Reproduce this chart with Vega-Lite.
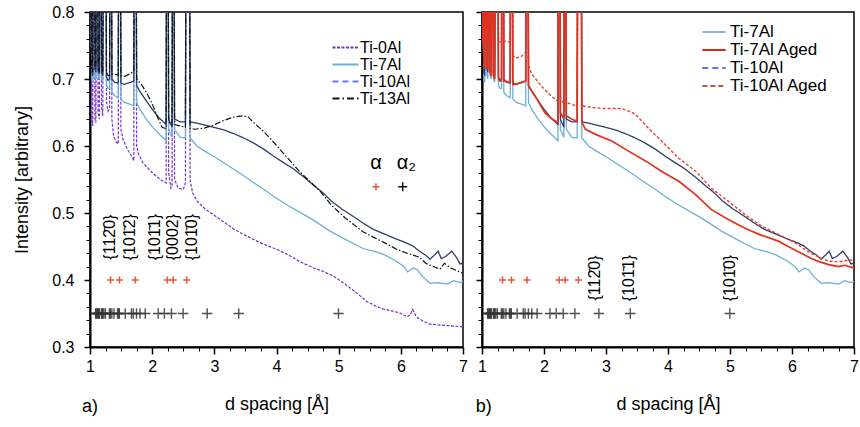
{
"$schema": "https://vega.github.io/schema/vega-lite/v6.json",
"background": "white",
"padding": {"left": 13, "top": 3, "right": 0, "bottom": 0},
"config": {
  "font": "Liberation Sans",
  "view": {"stroke": "black", "strokeWidth": 1.5},
  "axis": {"domainColor": "black", "domainWidth": 2, "tickColor": "black", "labelColor": "black", "titleColor": "black", "labelFontSize": 16, "titleFontSize": 18, "titleFontWeight": "normal", "grid": false, "labelFlush": false, "labelOverlap": false},
  "legend": {"labelFontSize": 17, "symbolStrokeWidth": 2, "labelOffset": 6, "rowPadding": 0, "labelColor": "black"}
},
"datasets": {
"P": [{"x":1.0,"y":0.75},{"x":1.008,"y":1},{"x":1.02,"y":1},{"x":1.03,"y":0.64},{"x":1.045,"y":0.63},{"x":1.055,"y":1},{"x":1.07,"y":1},{"x":1.08,"y":0.64},{"x":1.095,"y":0.635},{"x":1.105,"y":1},{"x":1.12,"y":1},{"x":1.13,"y":0.65},{"x":1.15,"y":0.64},{"x":1.16,"y":1},{"x":1.175,"y":1},{"x":1.185,"y":0.66},{"x":1.205,"y":0.645},{"x":1.22,"y":1},{"x":1.255,"y":1},{"x":1.265,"y":0.665},{"x":1.29,"y":0.652},{"x":1.315,"y":0.656},{"x":1.322,"y":1},{"x":1.342,"y":1},{"x":1.352,"y":0.64},{"x":1.38,"y":0.615},{"x":1.42,"y":0.606},{"x":1.455,"y":0.603},{"x":1.463,"y":1},{"x":1.487,"y":1},{"x":1.497,"y":0.625},{"x":1.53,"y":0.61},{"x":1.6,"y":0.595},{"x":1.67,"y":0.585},{"x":1.705,"y":0.578},{"x":1.712,"y":1},{"x":1.74,"y":1},{"x":1.75,"y":0.6},{"x":1.78,"y":0.588},{"x":1.85,"y":0.575},{"x":1.95,"y":0.565},{"x":2.05,"y":0.556},{"x":2.15,"y":0.549},{"x":2.225,"y":0.545},{"x":2.233,"y":1},{"x":2.255,"y":1},{"x":2.265,"y":0.56},{"x":2.3,"y":0.537},{"x":2.32,"y":0.54},{"x":2.33,"y":1},{"x":2.35,"y":1},{"x":2.36,"y":0.55},{"x":2.42,"y":0.537},{"x":2.5,"y":0.535},{"x":2.535,"y":0.545},{"x":2.545,"y":1},{"x":2.6,"y":1},{"x":2.61,"y":0.55},{"x":2.65,"y":0.53},{"x":2.72,"y":0.518},{"x":2.85,"y":0.506},{"x":2.98,"y":0.498},{"x":3.1,"y":0.49},{"x":3.3,"y":0.477},{"x":3.45,"y":0.469},{"x":3.62,"y":0.461},{"x":3.8,"y":0.453},{"x":4.0,"y":0.446},{"x":4.2,"y":0.437},{"x":4.38,"y":0.427},{"x":4.6,"y":0.418},{"x":4.75,"y":0.413},{"x":4.91,"y":0.406},{"x":5.1,"y":0.394},{"x":5.3,"y":0.38},{"x":5.45,"y":0.368},{"x":5.6,"y":0.361},{"x":5.71,"y":0.357},{"x":5.85,"y":0.354},{"x":5.98,"y":0.351},{"x":6.1,"y":0.345},{"x":6.15,"y":0.348},{"x":6.19,"y":0.356},{"x":6.25,"y":0.345},{"x":6.35,"y":0.339},{"x":6.47,"y":0.334},{"x":6.6,"y":0.333},{"x":6.75,"y":0.332},{"x":6.9,"y":0.331},{"x":7.0,"y":0.33}],
"B": [{"x":1.0,"y":0.745},{"x":1.008,"y":1},{"x":1.02,"y":1},{"x":1.03,"y":0.7},{"x":1.045,"y":0.695},{"x":1.055,"y":1},{"x":1.07,"y":1},{"x":1.08,"y":0.705},{"x":1.095,"y":0.7},{"x":1.105,"y":1},{"x":1.12,"y":1},{"x":1.13,"y":0.705},{"x":1.15,"y":0.7},{"x":1.16,"y":1},{"x":1.175,"y":1},{"x":1.185,"y":0.7},{"x":1.205,"y":0.695},{"x":1.22,"y":1},{"x":1.255,"y":1},{"x":1.265,"y":0.69},{"x":1.29,"y":0.686},{"x":1.315,"y":0.686},{"x":1.322,"y":1},{"x":1.342,"y":1},{"x":1.352,"y":0.68},{"x":1.4,"y":0.675},{"x":1.455,"y":0.672},{"x":1.463,"y":1},{"x":1.487,"y":1},{"x":1.497,"y":0.67},{"x":1.55,"y":0.665},{"x":1.65,"y":0.662},{"x":1.705,"y":0.66},{"x":1.712,"y":1},{"x":1.74,"y":1},{"x":1.75,"y":0.665},{"x":1.8,"y":0.655},{"x":1.9,"y":0.641},{"x":2.0,"y":0.629},{"x":2.1,"y":0.619},{"x":2.225,"y":0.608},{"x":2.233,"y":1},{"x":2.255,"y":1},{"x":2.265,"y":0.625},{"x":2.32,"y":0.613},{"x":2.33,"y":1},{"x":2.35,"y":1},{"x":2.36,"y":0.625},{"x":2.45,"y":0.613},{"x":2.535,"y":0.612},{"x":2.545,"y":1},{"x":2.6,"y":1},{"x":2.61,"y":0.612},{"x":2.72,"y":0.6},{"x":2.85,"y":0.592},{"x":2.98,"y":0.585},{"x":3.15,"y":0.575},{"x":3.3,"y":0.566},{"x":3.45,"y":0.557},{"x":3.62,"y":0.546},{"x":3.8,"y":0.535},{"x":3.95,"y":0.525},{"x":4.15,"y":0.513},{"x":4.38,"y":0.501},{"x":4.6,"y":0.489},{"x":4.86,"y":0.473},{"x":5.1,"y":0.461},{"x":5.39,"y":0.447},{"x":5.6,"y":0.442},{"x":5.75,"y":0.437},{"x":5.93,"y":0.428},{"x":6.05,"y":0.42},{"x":6.11,"y":0.412},{"x":6.2,"y":0.418},{"x":6.27,"y":0.415},{"x":6.35,"y":0.405},{"x":6.47,"y":0.395},{"x":6.6,"y":0.396},{"x":6.75,"y":0.394},{"x":6.85,"y":0.399},{"x":6.95,"y":0.396},{"x":7.0,"y":0.398}],
"N": [{"x":1.0,"y":0.74},{"x":1.008,"y":1},{"x":1.02,"y":1},{"x":1.03,"y":0.71},{"x":1.045,"y":0.705},{"x":1.055,"y":1},{"x":1.07,"y":1},{"x":1.08,"y":0.715},{"x":1.095,"y":0.71},{"x":1.105,"y":1},{"x":1.12,"y":1},{"x":1.13,"y":0.712},{"x":1.15,"y":0.708},{"x":1.16,"y":1},{"x":1.175,"y":1},{"x":1.185,"y":0.71},{"x":1.205,"y":0.705},{"x":1.22,"y":1},{"x":1.255,"y":1},{"x":1.265,"y":0.703},{"x":1.29,"y":0.698},{"x":1.315,"y":0.7},{"x":1.322,"y":1},{"x":1.342,"y":1},{"x":1.352,"y":0.7},{"x":1.4,"y":0.695},{"x":1.455,"y":0.694},{"x":1.463,"y":1},{"x":1.487,"y":1},{"x":1.497,"y":0.694},{"x":1.55,"y":0.692},{"x":1.65,"y":0.695},{"x":1.705,"y":0.697},{"x":1.712,"y":1},{"x":1.74,"y":1},{"x":1.75,"y":0.69},{"x":1.8,"y":0.682},{"x":1.9,"y":0.668},{"x":2.0,"y":0.655},{"x":2.1,"y":0.643},{"x":2.225,"y":0.632},{"x":2.233,"y":1},{"x":2.255,"y":1},{"x":2.265,"y":0.64},{"x":2.32,"y":0.628},{"x":2.33,"y":1},{"x":2.35,"y":1},{"x":2.36,"y":0.64},{"x":2.45,"y":0.636},{"x":2.535,"y":0.636},{"x":2.545,"y":1},{"x":2.6,"y":1},{"x":2.61,"y":0.636},{"x":2.72,"y":0.634},{"x":2.85,"y":0.631},{"x":2.98,"y":0.628},{"x":3.15,"y":0.624},{"x":3.3,"y":0.619},{"x":3.45,"y":0.613},{"x":3.62,"y":0.605},{"x":3.8,"y":0.595},{"x":3.95,"y":0.585},{"x":4.1,"y":0.576},{"x":4.27,"y":0.566},{"x":4.45,"y":0.553},{"x":4.6,"y":0.541},{"x":4.75,"y":0.53},{"x":4.88,"y":0.518},{"x":5.05,"y":0.506},{"x":5.2,"y":0.497},{"x":5.39,"y":0.485},{"x":5.55,"y":0.476},{"x":5.75,"y":0.468},{"x":5.93,"y":0.461},{"x":6.05,"y":0.457},{"x":6.19,"y":0.451},{"x":6.3,"y":0.443},{"x":6.4,"y":0.437},{"x":6.47,"y":0.431},{"x":6.55,"y":0.438},{"x":6.6,"y":0.443},{"x":6.65,"y":0.432},{"x":6.72,"y":0.435},{"x":6.82,"y":0.443},{"x":6.9,"y":0.433},{"x":6.95,"y":0.424},{"x":7.0,"y":0.425}],
"D": [{"x":1.0,"y":0.74},{"x":1.008,"y":1},{"x":1.02,"y":1},{"x":1.03,"y":0.715},{"x":1.045,"y":0.71},{"x":1.055,"y":1},{"x":1.07,"y":1},{"x":1.08,"y":0.72},{"x":1.095,"y":0.715},{"x":1.105,"y":1},{"x":1.12,"y":1},{"x":1.13,"y":0.715},{"x":1.15,"y":0.712},{"x":1.16,"y":1},{"x":1.175,"y":1},{"x":1.185,"y":0.715},{"x":1.205,"y":0.71},{"x":1.22,"y":1},{"x":1.255,"y":1},{"x":1.265,"y":0.71},{"x":1.29,"y":0.705},{"x":1.315,"y":0.705},{"x":1.322,"y":1},{"x":1.342,"y":1},{"x":1.352,"y":0.708},{"x":1.4,"y":0.707},{"x":1.455,"y":0.706},{"x":1.463,"y":1},{"x":1.487,"y":1},{"x":1.497,"y":0.705},{"x":1.56,"y":0.704},{"x":1.65,"y":0.708},{"x":1.705,"y":0.712},{"x":1.712,"y":1},{"x":1.74,"y":1},{"x":1.75,"y":0.7},{"x":1.84,"y":0.69},{"x":1.92,"y":0.678},{"x":2.0,"y":0.663},{"x":2.1,"y":0.64},{"x":2.16,"y":0.628},{"x":2.225,"y":0.626},{"x":2.233,"y":1},{"x":2.255,"y":1},{"x":2.265,"y":0.636},{"x":2.32,"y":0.632},{"x":2.33,"y":1},{"x":2.35,"y":1},{"x":2.36,"y":0.632},{"x":2.45,"y":0.63},{"x":2.535,"y":0.628},{"x":2.545,"y":1},{"x":2.6,"y":1},{"x":2.61,"y":0.626},{"x":2.69,"y":0.625},{"x":2.85,"y":0.627},{"x":2.98,"y":0.631},{"x":3.15,"y":0.638},{"x":3.3,"y":0.643},{"x":3.46,"y":0.645},{"x":3.55,"y":0.643},{"x":3.62,"y":0.636},{"x":3.8,"y":0.621},{"x":3.95,"y":0.606},{"x":4.15,"y":0.585},{"x":4.38,"y":0.561},{"x":4.55,"y":0.546},{"x":4.7,"y":0.533},{"x":4.88,"y":0.512},{"x":5.1,"y":0.493},{"x":5.39,"y":0.472},{"x":5.6,"y":0.462},{"x":5.75,"y":0.455},{"x":5.93,"y":0.446},{"x":6.1,"y":0.44},{"x":6.3,"y":0.434},{"x":6.4,"y":0.425},{"x":6.5,"y":0.421},{"x":6.63,"y":0.416},{"x":6.7,"y":0.425},{"x":6.8,"y":0.418},{"x":6.95,"y":0.412},{"x":7.0,"y":0.41}],
"R": [{"x":1.0,"y":0.75},{"x":1.008,"y":1},{"x":1.02,"y":1},{"x":1.03,"y":0.72},{"x":1.045,"y":0.715},{"x":1.055,"y":1},{"x":1.07,"y":1},{"x":1.08,"y":0.72},{"x":1.095,"y":0.715},{"x":1.105,"y":1},{"x":1.12,"y":1},{"x":1.13,"y":0.71},{"x":1.15,"y":0.705},{"x":1.16,"y":1},{"x":1.175,"y":1},{"x":1.185,"y":0.705},{"x":1.205,"y":0.7},{"x":1.22,"y":1},{"x":1.255,"y":1},{"x":1.265,"y":0.7},{"x":1.29,"y":0.697},{"x":1.315,"y":0.697},{"x":1.322,"y":1},{"x":1.342,"y":1},{"x":1.352,"y":0.697},{"x":1.4,"y":0.696},{"x":1.455,"y":0.695},{"x":1.463,"y":1},{"x":1.487,"y":1},{"x":1.497,"y":0.692},{"x":1.54,"y":0.692},{"x":1.67,"y":0.696},{"x":1.705,"y":0.697},{"x":1.712,"y":1},{"x":1.74,"y":1},{"x":1.75,"y":0.69},{"x":1.86,"y":0.674},{"x":1.95,"y":0.66},{"x":2.02,"y":0.649},{"x":2.12,"y":0.641},{"x":2.19,"y":0.637},{"x":2.225,"y":0.635},{"x":2.233,"y":1},{"x":2.255,"y":1},{"x":2.265,"y":0.65},{"x":2.32,"y":0.64},{"x":2.33,"y":1},{"x":2.35,"y":1},{"x":2.36,"y":0.645},{"x":2.45,"y":0.64},{"x":2.535,"y":0.637},{"x":2.545,"y":1},{"x":2.6,"y":1},{"x":2.61,"y":0.635},{"x":2.67,"y":0.625},{"x":2.84,"y":0.617},{"x":3.1,"y":0.607},{"x":3.37,"y":0.592},{"x":3.65,"y":0.577},{"x":3.9,"y":0.562},{"x":4.18,"y":0.547},{"x":4.45,"y":0.527},{"x":4.7,"y":0.505},{"x":4.98,"y":0.49},{"x":5.25,"y":0.477},{"x":5.5,"y":0.467},{"x":5.78,"y":0.458},{"x":5.9,"y":0.452},{"x":6.0,"y":0.447},{"x":6.15,"y":0.44},{"x":6.31,"y":0.432},{"x":6.45,"y":0.427},{"x":6.59,"y":0.423},{"x":6.75,"y":0.42},{"x":6.85,"y":0.422},{"x":7.0,"y":0.418}],
"Q": [{"x":1.0,"y":0.77},{"x":1.008,"y":1},{"x":1.02,"y":1},{"x":1.03,"y":0.76},{"x":1.045,"y":0.755},{"x":1.055,"y":1},{"x":1.07,"y":1},{"x":1.08,"y":0.76},{"x":1.095,"y":0.757},{"x":1.105,"y":1},{"x":1.12,"y":1},{"x":1.13,"y":0.76},{"x":1.15,"y":0.755},{"x":1.16,"y":1},{"x":1.175,"y":1},{"x":1.185,"y":0.758},{"x":1.205,"y":0.755},{"x":1.22,"y":1},{"x":1.255,"y":1},{"x":1.265,"y":0.757},{"x":1.29,"y":0.755},{"x":1.315,"y":0.755},{"x":1.322,"y":1},{"x":1.342,"y":1},{"x":1.352,"y":0.757},{"x":1.4,"y":0.756},{"x":1.455,"y":0.755},{"x":1.463,"y":1},{"x":1.487,"y":1},{"x":1.497,"y":0.735},{"x":1.54,"y":0.731},{"x":1.64,"y":0.734},{"x":1.705,"y":0.74},{"x":1.712,"y":1},{"x":1.74,"y":1},{"x":1.75,"y":0.72},{"x":1.8,"y":0.708},{"x":1.96,"y":0.689},{"x":2.1,"y":0.676},{"x":2.19,"y":0.669},{"x":2.225,"y":0.667},{"x":2.233,"y":1},{"x":2.255,"y":1},{"x":2.265,"y":0.67},{"x":2.32,"y":0.664},{"x":2.33,"y":1},{"x":2.35,"y":1},{"x":2.36,"y":0.665},{"x":2.45,"y":0.662},{"x":2.535,"y":0.66},{"x":2.545,"y":1},{"x":2.6,"y":1},{"x":2.61,"y":0.66},{"x":2.67,"y":0.659},{"x":2.93,"y":0.656},{"x":3.25,"y":0.656},{"x":3.4,"y":0.651},{"x":3.48,"y":0.647},{"x":3.69,"y":0.626},{"x":3.9,"y":0.607},{"x":4.17,"y":0.582},{"x":4.45,"y":0.562},{"x":4.7,"y":0.537},{"x":4.98,"y":0.517},{"x":5.25,"y":0.497},{"x":5.5,"y":0.481},{"x":5.78,"y":0.468},{"x":6.06,"y":0.455},{"x":6.3,"y":0.44},{"x":6.59,"y":0.428},{"x":6.75,"y":0.427},{"x":6.96,"y":0.43},{"x":7.0,"y":0.428}],
"alpha": [{"x":1.332,"y":0.4},{"x":1.475,"y":0.4},{"x":1.726,"y":0.4},{"x":2.244,"y":0.4},{"x":2.34,"y":0.4},{"x":2.555,"y":0.4}],
"alpha2": [{"x":4.997,"y":0.35},{"x":3.392,"y":0.35},{"x":2.885,"y":0.35},{"x":2.498,"y":0.35},{"x":2.31,"y":0.35},{"x":2.197,"y":0.35},{"x":2.097,"y":0.35},{"x":1.889,"y":0.35},{"x":1.803,"y":0.35},{"x":1.748,"y":0.35},{"x":1.696,"y":0.35},{"x":1.666,"y":0.35},{"x":1.567,"y":0.35},{"x":1.472,"y":0.35},{"x":1.462,"y":0.35},{"x":1.442,"y":0.35},{"x":1.386,"y":0.35},{"x":1.351,"y":0.35},{"x":1.327,"y":0.35},{"x":1.311,"y":0.35},{"x":1.249,"y":0.35},{"x":1.2235,"y":0.35},{"x":1.206,"y":0.35},{"x":1.193,"y":0.35},{"x":1.188,"y":0.35},{"x":1.155,"y":0.35},{"x":1.146,"y":0.35},{"x":1.131,"y":0.35},{"x":1.125,"y":0.35},{"x":1.113,"y":0.35},{"x":1.099,"y":0.35},{"x":1.09,"y":0.35}],
"hklL": [{"t":"{112\u03040}","x":1.32,"y":0.464},{"t":"{101\u03042}","x":1.64,"y":0.464},{"t":"{101\u03041}","x":2.045,"y":0.464},{"t":"{0002}","x":2.34,"y":0.464},{"t":"{101\u03040}","x":2.635,"y":0.464}],
"hklR": [{"t":"{112\u03040}","x":2.83,"y":0.403},{"t":"{101\u03041}","x":3.37,"y":0.403},{"t":"{101\u03040}","x":5.0,"y":0.403}]
},
"spacing": 5,
"resolve": {"scale": {"x": "independent", "y": "independent", "color": "independent", "strokeDash": "independent"}, "legend": {"color": "independent", "strokeDash": "independent"}},
"hconcat": [
{
  "width": 373, "height": 335,
  "resolve": {"axis": {"x": "independent", "y": "independent"}},
  "layer": [
      {"data": {"name": "P"}, "mark": {"type": "line", "clip": true, "stroke": "#7433cf", "strokeWidth": 1.2, "strokeDash": [3, 1.5]},
       "encoding": {
         "x": {"field": "x", "type": "quantitative", "scale": {"domain": [1, 7], "nice": false, "zero": false},
               "axis": {"values": [1, 2, 3, 4, 5, 6, 7], "format": "d", "title": "d spacing [Å]", "tickSize": 7, "tickWidth": 1.5, "labelPadding": 4, "titlePadding": 21, "orient": "bottom"}},
         "y": {"field": "y", "type": "quantitative", "scale": {"domain": [0.3, 0.8], "nice": false, "zero": false},
               "axis": {"values": [0.3, 0.4, 0.5, 0.6, 0.7, 0.8], "format": ".1f", "title": "Intensity [arbitrary]", "tickSize": 6, "tickWidth": 1.5, "labelPadding": 10, "titlePadding": 20, "orient": "left"}}}},
      {"data": {"name": "B"}, "mark": {"type": "line", "clip": true, "stroke": "#6cb0d6", "strokeWidth": 1.3},
       "encoding": {"x": {"field": "x", "type": "quantitative", "axis": null}, "y": {"field": "y", "type": "quantitative", "axis": null}}},
      {"data": {"name": "N"}, "mark": {"type": "line", "clip": true, "stroke": "#2f3f68", "strokeWidth": 1.3},
       "encoding": {"x": {"field": "x", "type": "quantitative", "axis": null}, "y": {"field": "y", "type": "quantitative", "axis": null}}},
      {"data": {"name": "D"}, "mark": {"type": "line", "clip": true, "stroke": "#111111", "strokeWidth": 1.2, "strokeDash": [6, 2, 1.5, 2]},
       "encoding": {"x": {"field": "x", "type": "quantitative", "axis": null}, "y": {"field": "y", "type": "quantitative", "axis": null}}},
      {"data": {"name": "alpha"}, "mark": {"type": "point", "shape": "M-1,0L1,0M0,-1L0,1", "filled": false, "color": "#e8553a", "strokeWidth": 1.5, "size": 49, "opacity": 1},
       "encoding": {"x": {"field": "x", "type": "quantitative", "axis": null}, "y": {"field": "y", "type": "quantitative", "axis": null}}},
      {"data": {"name": "alpha2"}, "mark": {"type": "point", "shape": "M-1,0L1,0M0,-1L0,1", "filled": false, "color": "#333333", "strokeWidth": 1.4, "size": 110, "opacity": 0.85},
       "encoding": {"x": {"field": "x", "type": "quantitative", "axis": null}, "y": {"field": "y", "type": "quantitative", "axis": null}}},
      {"data": {"values": [{"x": 5.6, "y": 0.539}]}, "mark": {"type": "point", "shape": "M-1,0L1,0M0,-1L0,1", "filled": false, "color": "#e8553a", "strokeWidth": 1.5, "size": 49, "opacity": 1},
       "encoding": {"x": {"field": "x", "type": "quantitative", "axis": null}, "y": {"field": "y", "type": "quantitative", "axis": null}}},
      {"data": {"values": [{"x": 6.03, "y": 0.539}]}, "mark": {"type": "point", "shape": "M-1,0L1,0M0,-1L0,1", "filled": false, "color": "#111111", "strokeWidth": 1.5, "size": 81, "opacity": 1},
       "encoding": {"x": {"field": "x", "type": "quantitative", "axis": null}, "y": {"field": "y", "type": "quantitative", "axis": null}}},
      {"data": {"values": [{"t": "α", "x": 5.6, "y": 0.575}, {"t": "α₂", "x": 6.09, "y": 0.575}]}, "mark": {"type": "text", "fontSize": 20, "align": "center", "baseline": "middle", "color": "black"},
       "encoding": {"text": {"field": "t"}, "x": {"field": "x", "type": "quantitative", "axis": null}, "y": {"field": "y", "type": "quantitative", "axis": null}}},
      {"data": {"name": "hklL"}, "mark": {"type": "text", "fontSize": 16, "angle": 270, "align": "center", "baseline": "middle", "color": "black"},
       "encoding": {"text": {"field": "t"}, "x": {"field": "x", "type": "quantitative", "axis": null}, "y": {"field": "y", "type": "quantitative", "axis": null}}},
      {"data": {"values": [{"t": "a)", "x": 1.0, "y": 0.21}]}, "mark": {"type": "text", "fontSize": 18, "align": "center", "baseline": "middle", "color": "black"},
       "encoding": {"text": {"field": "t"}, "x": {"field": "x", "type": "quantitative", "axis": null}, "y": {"field": "y", "type": "quantitative", "axis": null}}},
    {"data": {"values": []}, "mark": {"type": "line"},
     "encoding": {
       "x": {"field": "x", "type": "quantitative", "axis": {"values": [1.25, 1.5, 1.75, 2.25, 2.5, 2.75, 3.25, 3.5, 3.75, 4.25, 4.5, 4.75, 5.25, 5.5, 5.75, 6.25, 6.5, 6.75], "labels": false, "domain": false, "title": null, "tickSize": 4, "tickWidth": 1, "orient": "bottom"}},
       "y": {"field": "y", "type": "quantitative", "axis": {"values": [0.32, 0.34, 0.36, 0.38, 0.42, 0.44, 0.46, 0.48, 0.52, 0.54, 0.56, 0.58, 0.62, 0.64, 0.66, 0.68, 0.72, 0.74, 0.76, 0.78], "labels": false, "domain": false, "title": null, "tickSize": 4, "tickWidth": 1, "orient": "left"}},
       "color": {"field": "s", "type": "nominal", "scale": {"domain": ["Ti-0Al", "Ti-7Al", "Ti-10Al", "Ti-13Al"], "range": ["#7433cf", "#6cb0d6", "#6a7cf0", "#111111"]},
                 "legend": {"title": null, "orient": "none", "legendX": 247, "legendY": 27, "labelFontSize": 16, "symbolType": "M-1.8,0L1.8,0", "symbolSize": 210}},
       "strokeDash": {"field": "s", "type": "nominal", "scale": {"domain": ["Ti-0Al", "Ti-7Al", "Ti-10Al", "Ti-13Al"], "range": [[3, 1.5], [1, 0], [6, 4], [7, 3, 1.5, 3]]},
                 "legend": {"title": null, "orient": "none", "legendX": 247, "legendY": 27, "labelFontSize": 16, "symbolType": "M-1.8,0L1.8,0", "symbolSize": 210}}}}
  ]
},
{
  "width": 372, "height": 335,
  "resolve": {"axis": {"x": "independent", "y": "independent"}},
  "layer": [
      {"data": {"name": "B"}, "mark": {"type": "line", "clip": true, "stroke": "#6cb0d6", "strokeWidth": 1.3},
       "encoding": {
         "x": {"field": "x", "type": "quantitative", "scale": {"domain": [1, 7], "nice": false, "zero": false},
               "axis": {"values": [1, 2, 3, 4, 5, 6, 7], "format": "d", "title": "d spacing [Å]", "tickSize": 7, "tickWidth": 1.5, "labelPadding": 4, "titlePadding": 21, "orient": "bottom"}},
         "y": {"field": "y", "type": "quantitative", "scale": {"domain": [0.3, 0.8], "nice": false, "zero": false},
               "axis": {"values": [0.3, 0.4, 0.5, 0.6, 0.7, 0.8], "labels": false, "title": null, "tickSize": 6, "tickWidth": 1.5, "orient": "left"}}}},
      {"data": {"name": "N"}, "mark": {"type": "line", "clip": true, "stroke": "#2f3f68", "strokeWidth": 1.3},
       "encoding": {"x": {"field": "x", "type": "quantitative", "axis": null}, "y": {"field": "y", "type": "quantitative", "axis": null}}},
      {"data": {"name": "Q"}, "mark": {"type": "line", "clip": true, "stroke": "#e8412e", "strokeWidth": 1.4, "strokeDash": [3, 2]},
       "encoding": {"x": {"field": "x", "type": "quantitative", "axis": null}, "y": {"field": "y", "type": "quantitative", "axis": null}}},
      {"data": {"name": "R"}, "mark": {"type": "line", "clip": true, "stroke": "#e2321f", "strokeWidth": 1.7},
       "encoding": {"x": {"field": "x", "type": "quantitative", "axis": null}, "y": {"field": "y", "type": "quantitative", "axis": null}}},
      {"data": {"name": "alpha"}, "mark": {"type": "point", "shape": "M-1,0L1,0M0,-1L0,1", "filled": false, "color": "#e8553a", "strokeWidth": 1.5, "size": 49, "opacity": 1},
       "encoding": {"x": {"field": "x", "type": "quantitative", "axis": null}, "y": {"field": "y", "type": "quantitative", "axis": null}}},
      {"data": {"name": "alpha2"}, "mark": {"type": "point", "shape": "M-1,0L1,0M0,-1L0,1", "filled": false, "color": "#333333", "strokeWidth": 1.4, "size": 110, "opacity": 0.85},
       "encoding": {"x": {"field": "x", "type": "quantitative", "axis": null}, "y": {"field": "y", "type": "quantitative", "axis": null}}},
      {"data": {"name": "hklR"}, "mark": {"type": "text", "fontSize": 16, "angle": 270, "align": "center", "baseline": "middle", "color": "black"},
       "encoding": {"text": {"field": "t"}, "x": {"field": "x", "type": "quantitative", "axis": null}, "y": {"field": "y", "type": "quantitative", "axis": null}}},
      {"data": {"values": [{"t": "b)", "x": 1.03, "y": 0.21}]}, "mark": {"type": "text", "fontSize": 18, "align": "center", "baseline": "middle", "color": "black"},
       "encoding": {"text": {"field": "t"}, "x": {"field": "x", "type": "quantitative", "axis": null}, "y": {"field": "y", "type": "quantitative", "axis": null}}},
    {"data": {"values": []}, "mark": {"type": "line"},
     "encoding": {
       "x": {"field": "x", "type": "quantitative", "axis": {"values": [1.25, 1.5, 1.75, 2.25, 2.5, 2.75, 3.25, 3.5, 3.75, 4.25, 4.5, 4.75, 5.25, 5.5, 5.75, 6.25, 6.5, 6.75], "labels": false, "domain": false, "title": null, "tickSize": 4, "tickWidth": 1, "orient": "bottom"}},
       "y": {"field": "y", "type": "quantitative", "axis": {"values": [0.32, 0.34, 0.36, 0.38, 0.42, 0.44, 0.46, 0.48, 0.52, 0.54, 0.56, 0.58, 0.62, 0.64, 0.66, 0.68, 0.72, 0.74, 0.76, 0.78], "labels": false, "domain": false, "title": null, "tickSize": 4, "tickWidth": 1, "orient": "left"}},
       "color": {"field": "s", "type": "nominal", "scale": {"domain": ["Ti-7Al", "Ti-7Al Aged", "Ti-10Al", "Ti-10Al Aged"], "range": ["#8ab8e0", "#d42a1e", "#6a6cf0", "#c0504d"]},
                 "legend": {"title": null, "orient": "none", "legendX": 222, "legendY": 10, "labelFontSize": 17, "symbolType": "M-1.35,0L1.35,0", "symbolSize": 300}},
       "strokeDash": {"field": "s", "type": "nominal", "scale": {"domain": ["Ti-7Al", "Ti-7Al Aged", "Ti-10Al", "Ti-10Al Aged"], "range": [[1, 0], [1, 0], [6, 4], [5, 3]]},
                 "legend": {"title": null, "orient": "none", "legendX": 222, "legendY": 10, "labelFontSize": 17, "symbolType": "M-1.35,0L1.35,0", "symbolSize": 300}}}}
  ]
}
]
}
